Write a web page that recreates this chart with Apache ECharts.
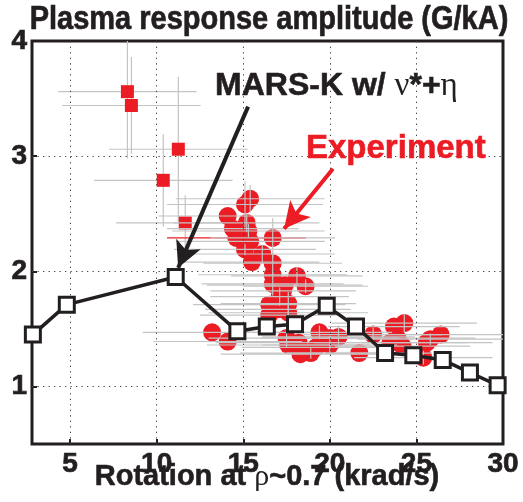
<!DOCTYPE html>
<html>
<head>
<meta charset="utf-8">
<script src="https://cdn.jsdelivr.net/npm/echarts@6/dist/echarts.min.js"></script>
<style>
  html, body { margin: 0; padding: 0; background: #ffffff; }
  #chart { width: 523px; height: 502px; }
</style>
</head>
<body>
<div id="chart"></div>
<script>
// Axis ticks
const xTicks = [5, 10, 15, 20, 25, 30];
const yTicks = [1, 2, 3, 4];

// MARS-K model with collisionality + resistivity
const marsRotation  = [2.85, 4.81, 11.10, 14.66, 16.36, 17.99, 19.82, 21.51, 23.19, 24.82, 26.52, 28.09, 29.69];
const marsAmplitude = [1.45, 1.71, 1.95, 1.48, 1.52, 1.54, 1.70, 1.52, 1.29, 1.27, 1.23, 1.12, 1.01];

// Experiment: low-rotation shots (squares)
const sqRotation  = [8.31, 8.54, 11.25, 10.38, 11.65];
const sqAmplitude = [3.56, 3.44, 3.06, 2.79, 2.42];
const sqRotErr    = [4.0, 4.0, 4.0, 4.0, 4.0];
const sqAmpErr    = [0.58, 0.42, 0.63, 0.40, 0.24];

// Experiment: circles
const expRotation  = [15.4, 15.1, 14.1, 15.2, 14.4, 15.3, 14.6, 16.7, 15.4, 15.1, 16.1, 15.5, 16.7, 16.7, 18.1, 16.7,
                      17.4, 18.6, 17.3, 17.1, 16.5, 17.6, 17.0, 17.6, 16.5, 13.2, 14.1, 17.5, 18.2, 19.4, 20.0, 20.5,
                      18.3, 18.9, 19.2, 20.0, 17.6, 21.7, 22.5, 23.7, 24.3, 23.9, 23.5, 25.4, 25.6, 26.4, 25.8, 24.2];
const expAmplitude = [2.63, 2.58, 2.48, 2.42, 2.37, 2.35, 2.29, 2.29, 2.26, 2.19, 2.15, 2.08, 2.07, 1.97, 1.96, 1.89,
                      1.88, 1.87, 1.83, 1.78, 1.71, 1.72, 1.67, 1.64, 1.62, 1.47, 1.39, 1.42, 1.38, 1.47, 1.42, 1.43,
                      1.28, 1.29, 1.34, 1.36, 1.36, 1.29, 1.45, 1.52, 1.55, 1.42, 1.38, 1.25, 1.38, 1.45, 1.41, 1.35];
const expRotErr    = [4.3, 4.5, 4.0, 4.2, 3.8, 4.4, 4.0, 3.6, 4.3, 4.1, 4.2, 3.9, 4.0, 4.3, 3.8, 4.1,
                      4.5, 3.6, 4.2, 4.0, 4.4, 3.9, 4.2, 4.6, 4.0, 4.0, 4.3, 4.5, 4.8, 4.2, 4.0, 4.4,
                      4.6, 4.1, 4.3, 3.9, 4.7, 4.2, 4.0, 3.8, 4.2, 4.5, 4.4, 4.0, 3.8, 4.0, 4.2, 3.9];
const expAmpErr    = [0.12, 0.20, 0, 0.08, 0, 0.06, 0, 0.17, 0, 0.05, 0.08, 0, 0.10, 0, 0.08, 0.10,
                      0, 0.06, 0, 0.08, 0, 0.10, 0, 0.06, 0, 0, 0, 0.08, 0, 0.06, 0, 0.10,
                      0, 0.05, 0, 0.08, 0, 0, 0.06, 0, 0.08, 0, 0, 0.06, 0, 0, 0.05, 0];
// the one shot whose rotation bar is drawn in red
const redBarIndex = 6;

const X_MIN = 2.8, X_MAX = 30, Y_MIN = 0.5, Y_MAX = 4;
const RED = '#ec1c24';
const INK = '#231f20';
const BAR = '#c4c4c4';
const SANS = '"Liberation Sans", Arial, Helvetica, sans-serif';
const SERIF = '"Liberation Serif", "Times New Roman", serif';

const zip = (...cols) => cols[0].map((_, i) => cols.map(c => c[i]));

function errorBars(params, api) {
  const x = api.value(0), y = api.value(1), dx = api.value(2), dy = api.value(3);
  const color = api.value(4) ? RED : BAR;
  const l = api.coord([Math.max(X_MIN, x - dx), y]);
  const r = api.coord([Math.min(X_MAX, x + dx), y]);
  const kids = [{
    type: 'line',
    shape: { x1: l[0], y1: l[1], x2: r[0], y2: r[1] },
    style: { stroke: color, lineWidth: 1.2 }
  }];
  if (dy > 0) {
    const b = api.coord([x, Math.max(Y_MIN, y - dy)]);
    const t = api.coord([x, Math.min(Y_MAX, y + dy)]);
    kids.push({
      type: 'line',
      shape: { x1: b[0], y1: b[1], x2: t[0], y2: t[1] },
      style: { stroke: BAR, lineWidth: 1.2 }
    });
  }
  return { type: 'group', children: kids };
}

const chart = echarts.init(document.getElementById('chart'), null, { renderer: 'canvas' });

const gridLineStyle = { color: '#444', width: 1, type: [1.3, 4.2] };
const tickLabel = {
  color: INK, fontFamily: SANS, fontWeight: 'bold', fontSize: 28,
  textBorderColor: INK, textBorderWidth: 0.7
};

chart.setOption({
  animation: false,
  backgroundColor: '#ffffff',
  grid: {
    left: 32, right: 20, top: 41, bottom: 58,
    show: true, borderColor: INK, borderWidth: 3, backgroundColor: 'transparent'
  },
  xAxis: {
    type: 'value', min: X_MIN, max: X_MAX,
    axisLine: { show: false },
    splitLine: { show: false },
    axisTick: { show: true, inside: true, length: 5, customValues: xTicks, lineStyle: { color: INK, width: 2 } },
    axisLabel: Object.assign({ customValues: xTicks, margin: 6 }, tickLabel)
  },
  yAxis: {
    type: 'value', min: Y_MIN, max: Y_MAX,
    axisLine: { show: false },
    splitLine: { show: false },
    axisTick: { show: true, inside: true, length: 5, customValues: yTicks, lineStyle: { color: INK, width: 2 } },
    axisLabel: Object.assign({ customValues: yTicks, margin: 5 }, tickLabel)
  },
  graphic: [
    {
      type: 'text', x: 269, y: 19.5, scaleY: 1.15, z: 100,
      style: { text: 'Plasma response amplitude (G/kA)', font: 'bold 29px ' + SANS, fill: INK,
               stroke: INK, lineWidth: 0.6, align: 'center', verticalAlign: 'middle' }
    },
    {
      type: 'text', x: 267, y: 477, z: 100,
      style: {
        text: '{b|Rotation at }{g|ρ}{b|~0.7 (krad/s)}',
        align: 'center', verticalAlign: 'middle',
        rich: {
          b: { font: 'bold 29px ' + SANS, fill: INK, stroke: INK, lineWidth: 0.6 },
          g: { font: '30px ' + SERIF, fill: INK }
        }
      }
    },
    {
      type: 'text', x: 215, y: 86.5, z: 100,
      style: {
        text: '{b|MARS-K w/ }{g|ν}{b|*+}{g|η}',
        align: 'left', verticalAlign: 'middle',
        rich: {
          b: { font: 'bold 32px ' + SANS, fill: INK, stroke: INK, lineWidth: 0.6 },
          g: { font: '33px ' + SERIF, fill: INK }
        }
      }
    },
    {
      type: 'text', x: 306, y: 149, z: 100,
      style: { text: 'Experiment', font: 'bold 33px ' + SANS, fill: RED, stroke: RED, lineWidth: 0.6,
               align: 'left', verticalAlign: 'middle' }
    }
  ],
  series: [
    {
      // dotted reference grid at each labelled tick
      type: 'scatter', data: [], silent: true, z: 1,
      markLine: {
        silent: true, symbol: 'none', label: { show: false },
        lineStyle: gridLineStyle,
        data: xTicks.filter(v => v < X_MAX).map(v => ({ xAxis: v }))
          .concat(yTicks.filter(v => v < Y_MAX).map(v => ({ yAxis: v })))
      }
    },
    {
      type: 'custom', z: 2, silent: true, clip: true,
      renderItem: errorBars,
      data: zip(sqRotation, sqAmplitude, sqRotErr, sqAmpErr, sqRotation.map(() => 0))
    },
    {
      type: 'scatter', z: 3, silent: true,
      symbol: 'rect', symbolSize: 13,
      itemStyle: { color: RED, opacity: 1 },
      data: zip(sqRotation, sqAmplitude)
    },
    {
      type: 'scatter', z: 3, silent: true,
      symbol: 'circle', symbolSize: 18,
      itemStyle: { color: RED, opacity: 1 },
      data: zip(expRotation, expAmplitude)
    },
    {
      type: 'custom', z: 4, silent: true, clip: true,
      renderItem: errorBars,
      data: zip(expRotation, expAmplitude, expRotErr, expAmpErr, expRotation.map((_, i) => i === redBarIndex ? 1 : 0))
    },
    {
      type: 'line', z: 5, silent: true,
      data: zip(marsRotation, marsAmplitude),
      symbol: 'rect', symbolSize: 15, showAllSymbol: true,
      lineStyle: { color: INK, width: 3.5 },
      itemStyle: { color: '#ffffff', borderColor: INK, borderWidth: 3 },
      markLine: {
        silent: true, animation: false,
        symbol: ['none', 'arrow'], symbolSize: [20, 26],
        label: { show: false },
        data: [
          [{ coord: [15.28, 3.43], lineStyle: { color: INK, width: 4, type: 'solid' }, itemStyle: { color: INK } },
           { coord: [11.24, 2.03] }],
          [{ coord: [20.18, 2.89], lineStyle: { color: RED, width: 4, type: 'solid' }, itemStyle: { color: RED } },
           { coord: [17.36, 2.37] }]
        ]
      }
    }
  ]
});
</script>
</body>
</html>
